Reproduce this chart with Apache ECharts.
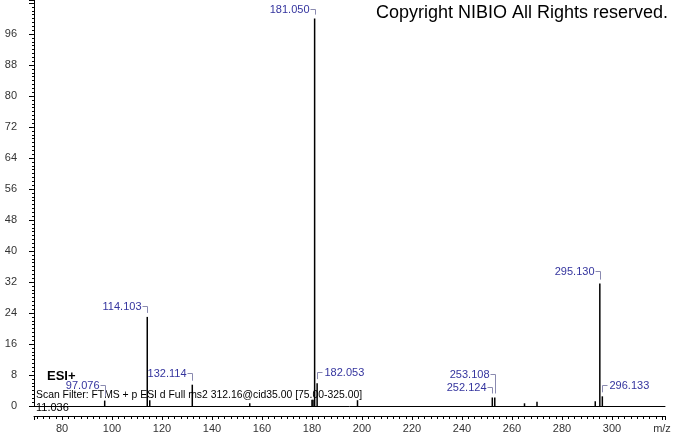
<!DOCTYPE html>
<html>
<head>
<meta charset="utf-8">
<script src="https://cdn.jsdelivr.net/npm/echarts@6/dist/echarts.min.js"></script>
<style>
html,body{margin:0;padding:0;background:#fff;}
#c{width:674px;height:434px;}
</style>
</head>
<body>
<div id="c"></div>
<script>
// ---- data ----
const peakMz  = [97.076, 114.103, 115.1, 132.114, 155.1, 180.0, 180.4, 181.050, 182.053, 198.2, 252.124, 253.108, 265.0, 270.0, 293.3, 295.130, 296.133];
const peakInt = [1.4,    23.0,    1.5,   5.5,     0.7,   1.6,   1.6,   100,     5.9,     1.5,   2.2,     2.2,     0.7,   1.1,   1.2,   31.6,    2.5];
const labelMz = [97.076, 114.103, 132.114, 181.050, 182.053, 252.124, 253.108, 295.130, 296.133];
const yTickLabels = [0, 8, 16, 24, 32, 40, 48, 56, 64, 72, 80, 88, 96];
const xTickLabels = [80, 100, 120, 140, 160, 180, 200, 220, 240, 260, 280, 300];
const xAxisUnit = 'm/z';
const headerText = 'Copyright NIBIO All Rights reserved.';
const ionText = 'ESI+';
const filterText = 'Scan Filter: FTMS + p ESI d Full ms2 312.16@cid35.00 [75.00-325.00]';
const rtText = '11.036';

// ---- layout (pixels above peak top, side of text) ----
const labelLayout = [
  {side: 'left',  dy: 16},
  {side: 'left',  dy: 11},
  {side: 'left',  dy: 12},
  {side: 'left',  dy: 9.5},
  {side: 'right', dy: 11},
  {side: 'left',  dy: 10.5},
  {side: 'left',  dy: 23},
  {side: 'left',  dy: 12.5},
  {side: 'right', dy: 11}
];

const peakData = peakMz.map((m, i) => [m, peakInt[i]]);
const labelData = labelMz.map(m => [m, peakInt[peakMz.indexOf(m)]]);

const FONT = '"Liberation Sans", Arial, sans-serif';
const chart = echarts.init(document.getElementById('c'), null, {renderer: 'canvas'});

const xCommon = {
  type: 'value', min: 68.8, max: 321.2, minInterval: 20, maxInterval: 20,
  splitLine: {show: false}
};

chart.setOption({
  animation: false,
  backgroundColor: '#fff',
  grid: {left: 34, right: 9, top: 0, bottom: 28, containLabel: false},
  xAxis: [
    Object.assign({}, xCommon, {
      position: 'bottom',
      axisLine: {show: true, onZero: false, lineStyle: {color: '#000', width: 1}},
      axisTick: {show: false}, axisLabel: {show: false}, minorTick: {show: false}
    }),
    Object.assign({}, xCommon, {
      position: 'bottom', offset: 10,
      axisLine: {show: true, onZero: false, lineStyle: {color: '#000', width: 1}},
      axisTick: {show: true, length: 4, lineStyle: {color: '#000'}},
      minorTick: {show: true, splitNumber: 8, length: 3, lineStyle: {color: '#000'}},
      axisLabel: {
        show: true, color: '#333', fontSize: 11, fontFamily: FONT, margin: 7,
        showMinLabel: true, showMaxLabel: true, hideOverlap: false,
        formatter: v => xTickLabels.indexOf(v) >= 0 ? String(v) : (v === 320 ? xAxisUnit : '')
      }
    })
  ],
  yAxis: {
    type: 'value', min: 0, max: 104.8, minInterval: 8, maxInterval: 8,
    axisLine: {show: true, onZero: false, lineStyle: {color: '#000', width: 1}},
    axisTick: {show: true, length: 5, lineStyle: {color: '#000'}},
    minorTick: {show: true, splitNumber: 8, length: 2, lineStyle: {color: '#000'}},
    splitLine: {show: false},
    axisLabel: {
      color: '#333', fontSize: 11, fontFamily: FONT, margin: 17,
      formatter: v => yTickLabels.indexOf(v) >= 0 ? String(v) : ''
    }
  },
  series: [
    {
      type: 'bar', xAxisIndex: 0, data: peakData, barWidth: 1.5,
      itemStyle: {color: '#000'}, silent: true
    },
    {
      type: 'custom', xAxisIndex: 0, data: labelData, silent: true, z: 5,
      renderItem: function (params, api) {
        const i = params.dataIndex;
        const p = api.coord([api.value(0), api.value(1)]);
        const L = labelLayout[i];
        const px = Math.round(p[0]) + 0.5;
        const ty = Math.round(p[1] - L.dy) + 0.5;
        const left = L.side === 'left';
        const hx = left ? px - 5 : px + 5;
        const tx = left ? px - 6 : px + 7;
        return {
          type: 'group',
          children: [
            {type: 'polyline', shape: {points: [[hx, ty], [px, ty], [px, p[1] - 4]]},
             style: {stroke: '#8a8ab0', lineWidth: 1, fill: null}},
            {type: 'text', style: {text: api.value(0).toFixed(3), x: tx, y: ty,
             align: left ? 'right' : 'left', verticalAlign: 'middle',
             fill: '#34349e', font: '11px ' + FONT}}
          ]
        };
      }
    }
  ],
  graphic: [
    {type: 'text', right: 6, top: 4, style: {text: headerText, fill: '#000', font: '18px ' + FONT}},
    {type: 'text', left: 47, top: 370, style: {text: ionText, fill: '#000', font: 'bold 13px ' + FONT}},
    {type: 'text', left: 36, top: 390, style: {text: filterText, fill: '#000', font: '10.4px ' + FONT}},
    {type: 'text', left: 36, top: 402, style: {text: rtText, fill: '#000', font: '11px ' + FONT}}
  ]
});
</script>
</body>
</html>
